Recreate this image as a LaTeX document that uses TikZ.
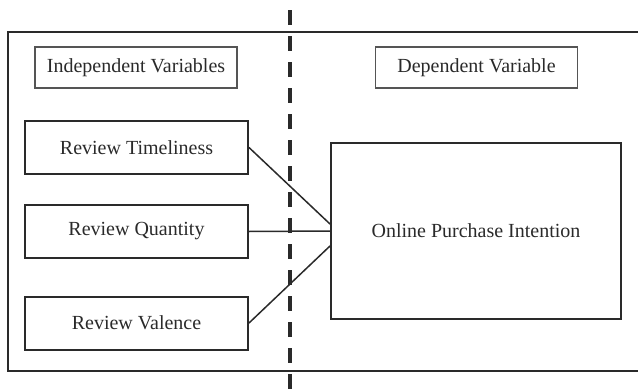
\documentclass[tikz,border=0pt]{standalone}
\usepackage{fontspec}
\setmainfont{Liberation Serif}
\usepackage{tikz}
\usetikzlibrary{calc, positioning}

\definecolor{ink}{HTML}{2A2A2A}
\definecolor{softink}{HTML}{555555}

\begin{document}
\begin{tikzpicture}[x=0.5pt, y=-0.5pt, font=\fontsize{10}{12}\selectfont, text=ink,
    headbox/.style={draw=softink, line width=0.6pt, minimum width=101pt, minimum height=20.5pt, inner sep=0pt},
    varbox/.style={draw=ink, line width=1pt, minimum width=111.5pt, minimum height=26.5pt, inner sep=0pt},
    link/.style={draw=ink, line width=0.75pt}]
  \useasboundingbox (0,0) rectangle (638,391);
  \clip (0,0) rectangle (638,391);
  % frame, open on the right
  \draw [ink, line width=1.2pt] (650,32) -- (8,32) -- (8,371) -- (650,371);
  \draw [ink, line width=2pt, dash pattern=on 7.5pt off 5.5pt] (290,10) -- (290,395);
  % headings
  \node (indep) at (136,67.5) [headbox, fill=white] {Independent Variables};
  \node (dep) at (476.5,67.5) [headbox, fill=white] {Dependent Variable};
  % variables
  \node (time) at (136.5,147.5) [varbox] {Review Timeliness};
  \node (quant) at (136.5,231.5) [varbox] {Review Quantity};
  \node (val) at (136.5,323) [varbox] {Review Valence};
  \node (intent) at (476,231) [draw=ink, line width=1pt, minimum width=145pt, minimum height=88pt, inner sep=0pt, fill=white] {Online Purchase Intention};
  \draw [link] (time.east) -- ([yshift=3.5pt]intent.west);
  \draw [link] (quant.east) -- (intent.west);
  \draw [link] (val.east) -- ([yshift=-7.5pt]intent.west);
\end{tikzpicture}
\end{document}
